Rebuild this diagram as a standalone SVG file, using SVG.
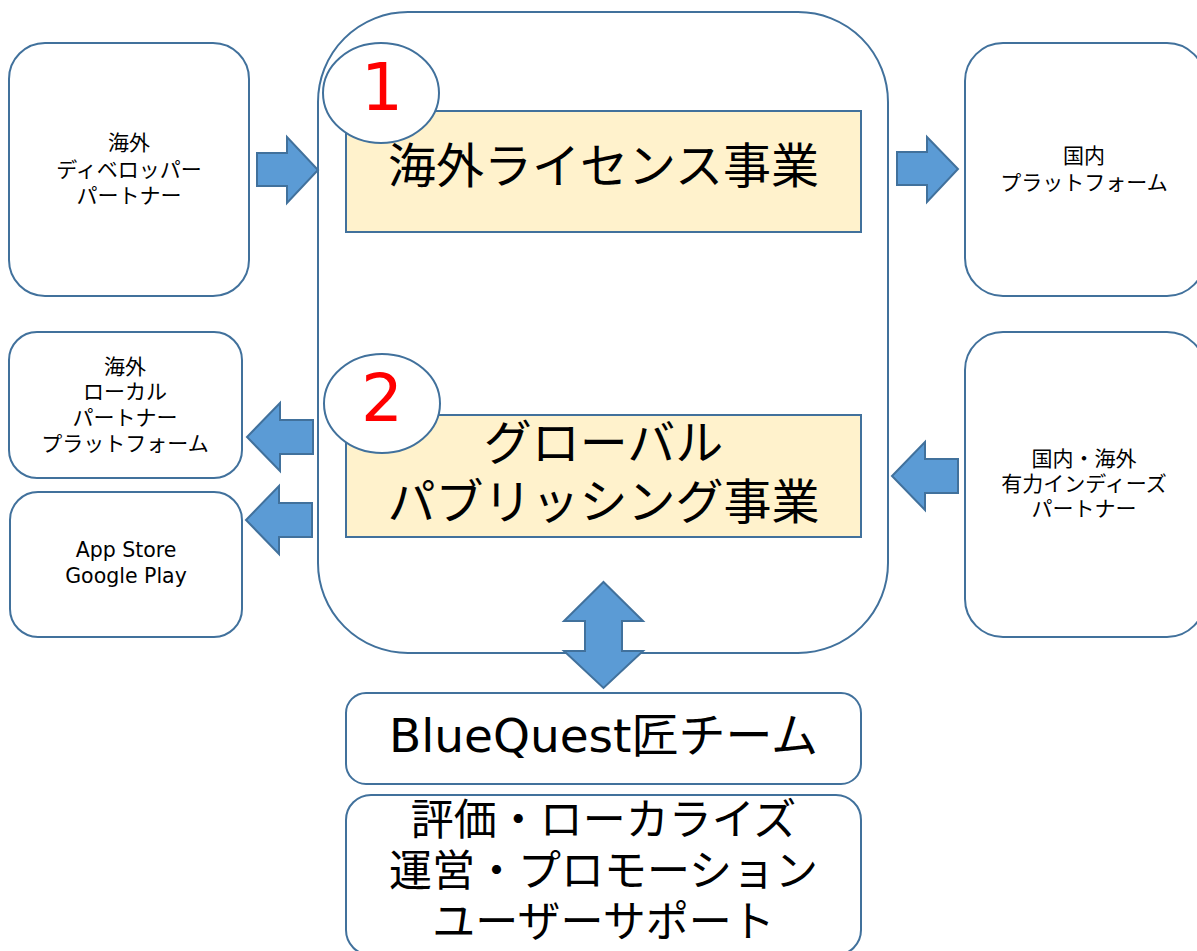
<svg xmlns="http://www.w3.org/2000/svg" width="1197" height="951" viewBox="0 0 1197 951">
<style>
.box{fill:#FFFFFF;stroke:#41719C;stroke-width:2}
.biz{fill:#FFF2CC;stroke:#41719C;stroke-width:2}
.arr{fill:#5B9BD5;stroke:#41719C;stroke-width:2;stroke-linejoin:miter}
.sm{font-family:"Noto Sans CJK JP","Noto Sans CJK SC",sans-serif;font-size:21px;fill:#000;text-anchor:middle;dominant-baseline:central}
.lat{font-family:"DejaVu Sans","Noto Sans CJK JP",sans-serif;font-size:20.5px;fill:#000;text-anchor:middle;dominant-baseline:central}
.big{font-family:"Noto Sans CJK JP","Noto Sans CJK SC",sans-serif;font-size:48px;fill:#000;text-anchor:middle;dominant-baseline:central}
.mid{font-family:"Noto Sans CJK JP","Noto Sans CJK SC",sans-serif;font-size:43px;fill:#000;text-anchor:middle;dominant-baseline:central}
.num{font-family:"DejaVu Sans",sans-serif;font-size:66px;fill:#FF0000;text-anchor:middle}
</style>
<rect width="1197" height="951" fill="#FFFFFF"/>

<g id="container">
<rect class="box" x="318" y="12" width="570" height="641" rx="90" ry="90"/>
</g>

<g id="biz1">
<rect class="biz" x="346" y="111" width="515" height="121"/>
<text class="big" x="603.5" y="162">海外ライセンス事業</text>
</g>

<g id="biz2">
<rect class="biz" x="346" y="415" width="515" height="122"/>
<text class="big" x="603.5" y="439">グローバル</text>
<text class="big" x="603.5" y="498">パブリッシング事業</text>
</g>

<g id="num1">
<ellipse class="box" cx="381" cy="93" rx="58" ry="50"/>
<text class="num" x="382" y="110">1</text>
</g>

<g id="num2">
<ellipse class="box" cx="382" cy="403.5" rx="58" ry="49.5"/>
<text class="num" x="382" y="421">2</text>
</g>

<g id="dev-partner">
<rect class="box" x="9" y="43" width="240" height="253" rx="36" ry="36"/>
<text class="sm" x="129" y="141">海外</text>
<text class="sm" x="129" y="168">ディベロッパー</text>
<text class="sm" x="129" y="194">パートナー</text>
</g>

<g id="domestic-platform">
<rect class="box" x="965" y="43" width="240" height="253" rx="38" ry="38"/>
<text class="sm" x="1084" y="154">国内</text>
<text class="sm" x="1084" y="181">プラットフォーム</text>
</g>

<g id="local-partner">
<rect class="box" x="9" y="332" width="233" height="146" rx="28" ry="28"/>
<text class="sm" x="125" y="365">海外</text>
<text class="sm" x="125" y="390">ローカル</text>
<text class="sm" x="125" y="416">パートナー</text>
<text class="sm" x="125" y="442">プラットフォーム</text>
</g>

<g id="stores">
<rect class="box" x="10" y="492" width="232" height="145" rx="28" ry="28"/>
<text class="lat" x="126" y="550">App Store</text>
<text class="lat" x="126" y="576">Google Play</text>
</g>

<g id="indie-partner">
<rect class="box" x="965" y="332" width="240" height="305" rx="38" ry="38"/>
<text class="sm" x="1084" y="457">国内・海外</text>
<text class="sm" x="1084" y="482">有力インディーズ</text>
<text class="sm" x="1084" y="507">パートナー</text>
</g>

<g id="team">
<rect class="box" x="346" y="693" width="515" height="91" rx="20" ry="20"/>
<text x="603.5" y="735" font-family="DejaVu Sans, Noto Sans CJK JP, sans-serif" font-size="47" fill="#000" text-anchor="middle" dominant-baseline="central">BlueQuest匠チーム</text>
</g>

<g id="services">
<rect class="box" x="346" y="795" width="515" height="160" rx="25" ry="25"/>
<text class="mid" x="603.5" y="816">評価・ローカライズ</text>
<text class="mid" x="603.5" y="867">運営・プロモーション</text>
<text class="mid" x="603.5" y="918">ユーザーサポート</text>
</g>

<g id="connectors">
<polygon class="arr" points="257,153 287,153 287,137 318,170 287,203 287,186 257,186"/>
<polygon class="arr" points="897,152 927,152 927,137 958,169 927,202 927,185 897,185"/>
<polygon class="arr" points="313,420 280,420 280,403 247,437 280,471 280,454 313,454"/>
<polygon class="arr" points="312,503 279,503 279,486 246,520 279,554 279,537 312,537"/>
<polygon class="arr" points="958,459 925,459 925,442 892,476 925,510 925,493 958,493"/>
<polygon class="arr" points="603.5,582 643,621 622,621 622,651 643,651 603.5,688 564,651 585,651 585,621 564,621"/>
</g>
</svg>
